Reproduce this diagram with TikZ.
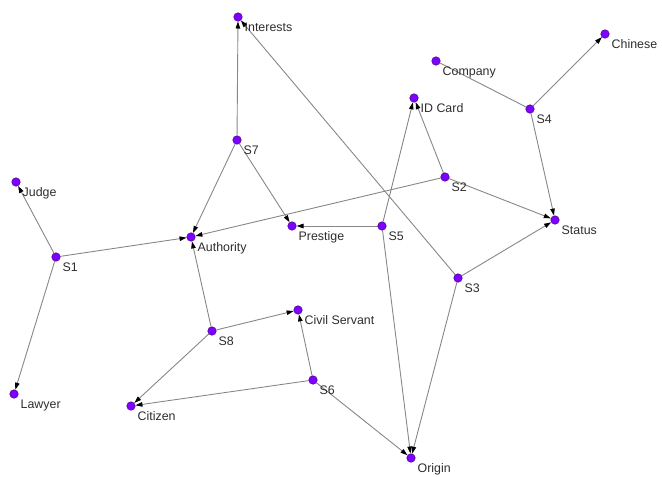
\documentclass[tikz,border=0pt]{standalone}
\usepackage{fontspec}
\setmainfont{Liberation Sans}
\usetikzlibrary{arrows.meta}
\definecolor{dotfill}{RGB}{128,0,255}
\definecolor{dotline}{RGB}{70,0,140}
\definecolor{edgegray}{RGB}{135,135,135}
\definecolor{labelgray}{RGB}{45,45,45}
\pgfdeclarelayer{bg}
\pgfsetlayers{bg,main}
\tikzset{
  vtx/.style={circle,fill=dotfill,draw=dotline,line width=0.5pt,minimum size=8.5pt,inner sep=0pt},
  lbl/.style={anchor=base west,inner sep=0pt,text=labelgray,font=\fontsize{12.4}{14}\selectfont},
  tie/.style={draw=edgegray,line width=0.9pt,-{Triangle[length=7pt,width=4.5pt,color=black]}},
  plaintie/.style={draw=edgegray,line width=0.9pt}
}
\newcommand{\vnode}[4]{%
  \node[vtx] (#1) at (#2,#3) {};
  \node[lbl] (#1-l) at (#2+6.5,#3+14) {#4};
}
\begin{document}
\begin{tikzpicture}[x=1pt,y=-1pt]
\useasboundingbox (0,0) rectangle (662,477);
\vnode{Interests}{238}{17}{Interests}
\vnode{S7}{237}{140}{S7}
\vnode{Judge}{16}{182}{Judge}
\vnode{Prestige}{292}{226}{Prestige}
\vnode{Authority}{191}{237}{Authority}
\vnode{Chinese}{605}{34}{Chinese}
\vnode{Company}{436}{61}{Company}
\vnode{IDCard}{414}{98}{ID Card}
\vnode{S4}{530}{109}{S4}
\vnode{S2}{445}{177}{S2}
\vnode{Status}{555}{220}{Status}
\vnode{S5}{382}{226}{S5}
\vnode{S1}{56}{257}{S1}
\vnode{S8}{212}{331}{S8}
\vnode{Civil}{298}{310}{Civil Servant}
\vnode{S6}{313}{380}{S6}
\vnode{Lawyer}{14}{394}{Lawyer}
\vnode{Citizen}{131}{406}{Citizen}
\vnode{S3}{458}{278}{S3}
\vnode{Origin}{411}{458}{Origin}
\begin{pgfonlayer}{bg}
\draw[tie] (S7) -- (Interests);
\draw[tie] (S7) -- (Authority);
\draw[tie] (S7) -- (Prestige);
\draw[tie] (S3) -- (Interests);
\draw[tie] (S1) -- (Judge);
\draw[tie] (S1) -- (Authority);
\draw[tie] (S1) -- (Lawyer);
\draw[tie] (S2) -- (Authority);
\draw[tie] (S2) -- (IDCard);
\draw[tie] (S2) -- (Status);
\draw[tie] (S4) -- (Chinese);
\draw[plaintie] (S4) -- (Company);
\draw[tie] (S4) -- (Status);
\draw[tie] (S3) -- (Status);
\draw[tie] (S3) -- (Origin);
\draw[tie] (S5) -- (IDCard);
\draw[tie] (S5) -- (Prestige);
\draw[tie] (S5) -- (Origin);
\draw[tie] (S6) -- (Origin);
\draw[tie] (S6) -- (Civil);
\draw[tie] (S6) -- (Citizen);
\draw[tie] (S8) -- (Citizen);
\draw[tie] (S8) -- (Civil);
\draw[tie] (S8) -- (Authority);
\end{pgfonlayer}
\end{tikzpicture}
\end{document}
